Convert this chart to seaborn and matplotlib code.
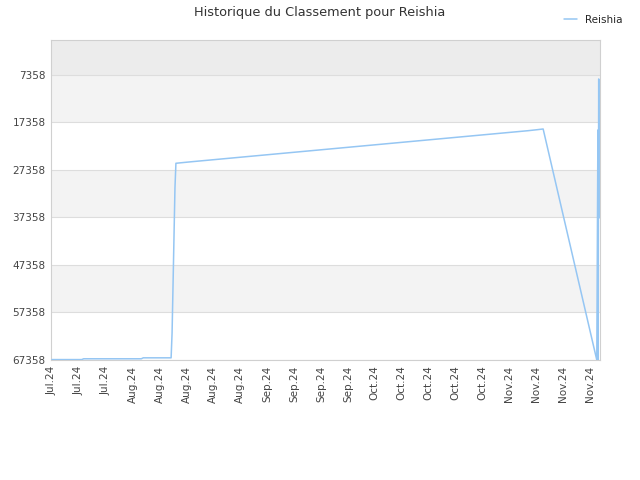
import matplotlib
matplotlib.use("Agg")
import matplotlib.pyplot as plt
import matplotlib.dates as mdates
import numpy as np
import pandas as pd
import seaborn as sns

sns.set_theme(style="white")
plt.rcParams['font.family'] = ['DejaVu Sans']

# données (rang, plus petit = meilleur)
dates = pd.to_datetime([
    "2024-07-11 00:00", "2024-07-18 18:00", "2024-07-19 06:00",
    "2024-08-03 06:00", "2024-08-03 18:00", "2024-08-11 00:00",
    "2024-08-11 06:00", "2024-08-11 12:00", "2024-08-11 18:00",
    "2024-08-12 00:00", "2024-08-12 06:00", "2024-08-13 20:00",
    "2024-08-16 12:00", "2024-11-11 21:00", "2024-11-14 06:00",
    "2024-11-15 19:00", "2024-11-29 18:00", "2024-11-30 01:00",
    "2024-11-30 02:00", "2024-11-30 06:00", "2024-11-30 08:00",
])
ranks = [
    67270, 67270, 67100,
    67100, 66900, 66900,
    61670, 51570, 41400,
    31150, 25950, 25820,
    25610, 19090, 18880,
    18730, 67358, 18940,
    67358, 8200, 37460,
]
player = "Reishia"

y_ticks = [7358, 17358, 27358, 37358, 47358, 57358, 67358]
x_ticks = pd.date_range("2024-07-11", "2024-11-28", freq="7D")
x_labels = [d.strftime("%b.%y") for d in x_ticks]

df = pd.DataFrame({"date": dates, "rang": ranks, "joueur": player})

fig = plt.figure(figsize=(6.4, 4.8), dpi=100)
ax = fig.add_axes([51 / 640, 120 / 480, 549 / 640, 320 / 480])

# bandes de fond alternées
bands = [0] + y_ticks
band_colors = ["#ececec", "#f3f3f3", "#ffffff", "#f3f3f3", "#ffffff", "#f3f3f3", "#ffffff"]
for lo, hi, c in zip(bands[:-1], bands[1:], band_colors):
    ax.axhspan(lo, hi, color=c, zorder=0, lw=0)

sns.lineplot(data=df, x="date", y="rang", hue="joueur", palette=["#95c6f3"],
             linewidth=1.1, ax=ax, estimator=None, sort=False, zorder=3)

ax.set_ylim(67358, 0)
ax.set_xlim(pd.Timestamp("2024-07-10 18:00"), pd.Timestamp("2024-11-30 14:00"))
ax.set_yticks(y_ticks)
ax.set_yticklabels([str(v) for v in y_ticks])
ax.set_xticks(x_ticks)
ax.set_xticklabels(x_labels, rotation=90)
ax.tick_params(axis="both", length=0, labelsize=7.5, colors="#444444", pad=4)
ax.grid(axis="y", color="#dddddd", lw=0.8, zorder=1)
ax.set_axisbelow(True)
ax.set_xlabel("")
ax.set_ylabel("")
for s in ax.spines.values():
    s.set_color("#d0d0d0")
    s.set_linewidth(0.8)

fig.suptitle("Historique du Classement pour Reishia", x=0.5, y=0.988,
             fontsize=9.3, color="#333333")
ax.legend(loc="upper right", bbox_to_anchor=(0.9875, 0.988), bbox_transform=fig.transFigure,
          frameon=False, fontsize=7.5, handlelength=1.2, handletextpad=0.8)

fig.savefig("out.png", dpi=100)
